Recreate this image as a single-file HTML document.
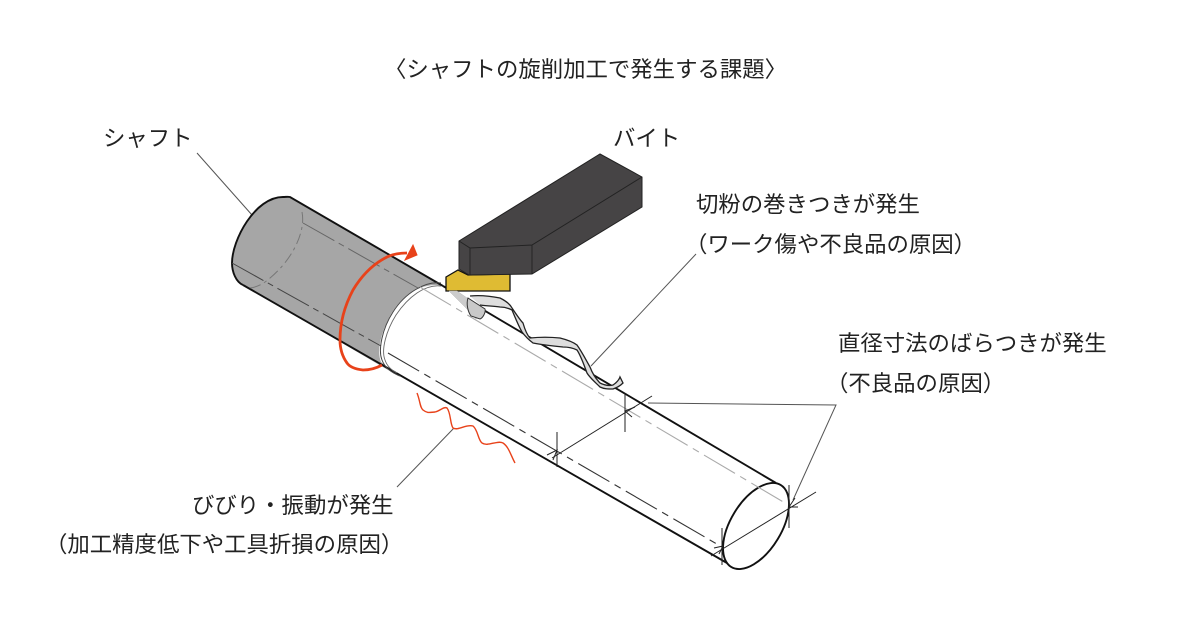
<!DOCTYPE html>
<html lang="ja">
<head>
<meta charset="utf-8">
<title>シャフトの旋削加工で発生する課題</title>
<style>
html,body{margin:0;padding:0;background:#fff;width:1200px;height:621px;overflow:hidden}
svg{display:block}
text{font-family:"Liberation Sans","Noto Sans CJK JP",sans-serif;font-size:22.4px;fill:#222}
</style>
</head>
<body>
<svg width="1200" height="621" viewBox="0 0 1200 621" xmlns="http://www.w3.org/2000/svg">
<!-- Labels -->
<text x="384" y="77">〈シャフトの旋削加工で発生する課題〉</text>
<text x="103" y="146">シャフト</text>
<text x="613" y="146">バイト</text>
<text x="696" y="212">切粉の巻きつきが発生</text>
<text x="685" y="252">（ワーク傷や不良品の原因）</text>
<text x="838" y="351">直径寸法のばらつきが発生</text>
<text x="826" y="391">（不良品の原因）</text>
<text x="192" y="513">びびり・振動が発生</text>
<text x="45" y="552">（加工精度低下や工具折損の原因）</text>

<!-- Leader lines -->
<g fill="none" stroke="#555" stroke-width="1">
<line x1="197" y1="153" x2="252" y2="215"/>
<line x1="696" y1="254" x2="591" y2="366"/>
<line x1="454" y1="428" x2="397" y2="487"/>
<polyline points="648,403 836,405 793,500"/>
</g>

<!-- Shaft gray section -->
<path d="M290,197 L443,286 C425,282 405,295 393,312 C382,328 376,350 381,362 L400,377 L243,285 C236,282 232,272 232,263 C232,240 255,198 283,198 Z" fill="#a6a6a6"/>
<!-- Shaft white section -->
<path d="M443,286 L776,483 L740,569 L400,377 C382,364 377,345 388,320 C398,298 420,281 443,286 Z" fill="#fff"/>
<!-- Outlines -->
<g fill="none" stroke="#111" stroke-width="1.9">
<path d="M243,285 C236,282 232,272 232,263 C232,240 255,197 283,197 C286,197 288,196.500 290,197 L443,286"/>
<path d="M443,286 L776,483"/>
<path d="M243,285 L727,563"/>
<ellipse cx="756" cy="526" rx="47.9" ry="25.4" transform="rotate(-58.8 756 526)"/>
</g>
<!-- boundary ring -->
<path d="M441,283 C425,281 405,293 393,312 C382,329 378,350 382,360 C385,368 392,373 400,376" fill="none" stroke="#444" stroke-width="1"/>
<path d="M441,286 C425,284 408,297 396,315 C386,331 381,350 385,360 C387,366 391,370 397,373" fill="none" stroke="#666" stroke-width="0.9"/>

<!-- Hidden edge on gray -->
<path d="M302,212 C306,232 292,262 265,282 C258,287 252,288 248,288" fill="none" stroke="#777" stroke-width="1" stroke-dasharray="11 4 3 4"/>
<!-- Center lines -->
<line x1="303" y1="223" x2="418" y2="288" stroke="#666" stroke-width="1" stroke-dasharray="36 5 6 5"/>
<line x1="420" y1="287" x2="785" y2="503" stroke="#aaa" stroke-width="1.1" stroke-dasharray="36 6 7 6"/>
<line x1="232" y1="263" x2="381" y2="346" stroke="#444" stroke-width="1" stroke-dasharray="36 5 6 5"/>
<line x1="388" y1="353" x2="722" y2="547" stroke="#333" stroke-width="1.1" stroke-dasharray="36 6 7 6"/>

<!-- Dimension lines -->
<g fill="none" stroke="#222" stroke-width="1">
<line x1="625" y1="393" x2="625" y2="432"/>
<line x1="557" y1="432" x2="557" y2="467"/>
<line x1="552" y1="458" x2="652" y2="396"/>
<line x1="711" y1="556" x2="816" y2="492"/>
<line x1="722" y1="528" x2="722" y2="565"/>
<line x1="789" y1="485" x2="789" y2="528"/>
<path d="M635,407 L625,411 L632,417 M547,455 L557,450 L553,460 M714,548 L723,546 L719,554 M795,498 L789,507 L798,507"/>
</g>

<!-- Tool insert -->
<path d="M446,277 L458,270 L468,275 L510,274 L510,291 L446,291 Z" fill="#dfbb33" stroke="#111" stroke-width="1.3"/>
<!-- Tool body -->
<path d="M600,154 L642,177 L642,207 L532,274 L469,275 L459,269 L459,241 Z" fill="#464445" stroke="#222" stroke-width="1"/>
<path d="M459,241 L470,248 L532,245 L642,177 M470,248 L470,275 M532,245 L532,274" fill="none" stroke="#222" stroke-width="0.9"/>

<!-- Chip -->
<path d="M449,291 L457,291 L470,300 L482,312 L476,319 L468,310 Z" fill="#ccc" stroke="#bbb" stroke-width="0.5"/>
<path d="M470,296 C480,295 490,296 500,298 C506,301 510,304 512,308 C516,314 520,320 523,323 C525,330 527,335 530,338 C540,337 550,337 560,338 C568,340 573,342 577,345 C582,352 586,360 590,367 C593,375 597,380 600,383 C604,385 609,386 613,385 C616,383 619,380 620,377 L623,383 C620,386 616,388 613,389 C608,389 604,389 600,387 C595,382 590,378 587,373 C584,365 581,356 577,350 C573,348 568,347 563,347 C553,346 543,345 533,343 C529,340 525,336 522,332 C518,325 515,317 512,310 C508,308 504,307 500,307 C493,306 486,306 480,305" fill="#dedede" stroke="#222" stroke-width="1.3"/>
<path d="M468,298 L485,309 C486,312 483,318 480,319 L471,316 C468,312 466,304 468,298 Z" fill="#c9c9c9" stroke="#333" stroke-width="1"/>

<!-- Red rotation arrow -->
<path d="M382,365 C375,369 368,370 363,370 C354,369 349,366 347,363 C342,356 340,348 340,340 C340,322 345,305 353,290 C362,275 373,264 387,257 C393,254 400,253 407,253" fill="none" stroke="#e8421a" stroke-width="2.8"/>
<path d="M413,245 L417,255 L405,260 Z" fill="#e8421a" stroke="#e8421a"/>
<!-- Vibration wave -->
<path d="M417,393 C420,400 420,408 423,410 C428,414 431,412 435,412 C440,411 444,406 447,408 C451,413 450,424 453,428 C458,431 466,424 473,426 C478,430 478,440 482,443 C488,447 497,440 503,443 C509,447 511,456 515,463" fill="none" stroke="#e8421a" stroke-width="1.4"/>
</svg>
</body>
</html>
